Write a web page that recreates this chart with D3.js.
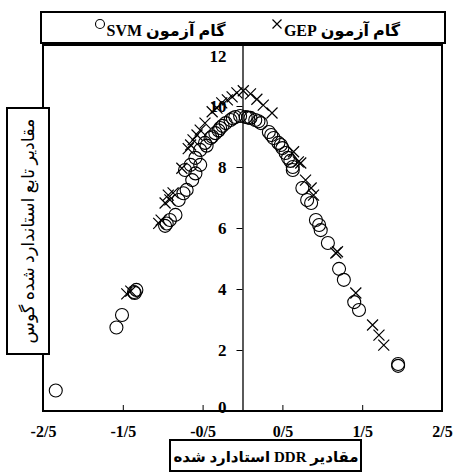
<!DOCTYPE html>
<html>
<head>
<meta charset="utf-8">
<script src="https://cdn.jsdelivr.net/npm/d3@7"></script>
<style>
  html, body { margin: 0; padding: 0; background: #fff; }
  svg { display: block; }
  text { fill: #000; }
</style>
</head>
<body>
<svg id="chart" width="453" height="472"></svg>
<script>
// Standardised DDR values (x) and Gaussian function values (y), SVM test step
const svmX = [-2.34, -1.58, -1.51, -1.36, -1.33, -1.35,
  -0.95, -0.97, -0.91, -0.84, -0.80, -0.74, -0.70, -0.63, -0.59, -0.53,
  -0.72, -0.65, -0.59, -0.53, -0.47, -0.45, -0.40, -0.38, -0.34, -0.30, -0.28, -0.25, -0.21, -0.15, -0.12, -0.09, -0.03,
  0.04, 0.07, 0.10, 0.16, 0.20, 0.23, 0.33, 0.36, 0.39, 0.45, 0.48, 0.50, 0.54, 0.57, 0.60, 0.63, 0.63,
  0.75, 0.81, 0.86, 0.92, 0.96, 0.98, 1.07, 1.21, 1.27, 1.40, 1.46, 1.95, 1.95];
const svmY = [0.67, 2.74, 3.15, 3.90, 3.97, 3.87,
  6.15, 6.07, 6.26, 6.43, 6.92, 7.14, 7.25, 7.57, 7.79, 8.07,
  7.90, 8.07, 8.30, 8.56, 8.79, 8.70, 8.95, 9.00, 9.11, 9.20, 9.28, 9.35, 9.44, 9.54, 9.60, 9.64, 9.67,
  9.64, 9.62, 9.61, 9.54, 9.50, 9.44, 9.15, 9.05, 8.95, 8.79, 8.72, 8.62, 8.46, 8.30, 8.20, 8.00, 7.90,
  7.31, 6.92, 6.82, 6.26, 6.10, 5.93, 5.51, 4.66, 4.30, 3.57, 3.31, 1.54, 1.48];

// GEP test step
const gepX = [-1.45, -1.40, -1.05, -1.02, -0.97, -0.91, -0.93, -0.87, -0.76,
  -0.68, -0.65, -0.62, -0.57, -0.53, -0.47, -0.38, -0.32, -0.26, -0.19, -0.13, -0.07,
  0.01, 0.10, 0.18, 0.26, 0.37, 0.64, 0.70, 0.73, 0.79, 0.86, 0.89,
  1.17, 1.19, 1.42, 1.63, 1.71, 1.77];
const gepY = [3.84, 3.93, 6.15, 6.26, 6.82, 6.92, 7.08, 7.15, 7.96,
  8.60, 8.72, 8.89, 9.05, 9.21, 9.44, 9.81, 9.93, 10.10, 10.20, 10.30, 10.43,
  10.50, 10.40, 10.22, 10.03, 9.77, 8.50, 8.17, 8.13, 7.57, 7.31, 7.08,
  5.18, 5.22, 3.87, 2.82, 2.49, 2.16];

const xTicks = [-2.5, -1.5, -0.5, 0.5, 1.5, 2.5];
const xTickLabels = ["-2/5", "-1/5", "-0/5", "0/5", "1/5", "2/5"];
const yTicks = [0, 2, 4, 6, 8, 10, 12];
const legendLabels = ["گام آزمون GEP", "گام آزمون SVM"];
const xTitle = "مقادیر DDR استادارد شده";
const yTitle = "مقادیر تابع استاندارد شده گوس";

const serif = "'Liberation Serif', 'Times New Roman', 'DejaVu Serif', 'DejaVu Sans', serif";
const svg = d3.select("#chart");

const x = d3.scaleLinear().domain([-2.5, 2.5]).range([43, 442]);
const y = d3.scaleLinear().domain([0, 12]).range([411, 45]);

// x axis along the bottom, ticks pointing inward
const xAxis = svg.append("g")
  .attr("transform", `translate(0,${y(0)})`)
  .call(d3.axisBottom(x).tickValues(xTicks)
    .tickFormat((d, i) => xTickLabels[i])
    .tickSizeInner(-6).tickSizeOuter(0).tickPadding(15));
xAxis.attr("font-family", null).attr("font-size", null);
xAxis.select(".domain").remove();
xAxis.selectAll("line").attr("stroke", "#000").attr("stroke-width", 1);
xAxis.selectAll("text").style("font-family", serif).style("font-weight", "bold")
  .style("font-size", "16px").attr("fill", "#000");

// y axis through x = 0
const yAxis = svg.append("g")
  .attr("transform", `translate(${x(0)},0)`)
  .call(d3.axisLeft(y).tickValues(yTicks).tickFormat(d3.format("d"))
    .tickSizeInner(6).tickSizeOuter(0).tickPadding(10));
yAxis.attr("font-family", null).attr("font-size", null);
yAxis.select(".domain").attr("stroke", "#000").attr("stroke-width", 1.3);
yAxis.selectAll("line").attr("stroke", "#000").attr("stroke-width", 1);
yAxis.selectAll("text").style("font-family", serif).style("font-weight", "bold")
  .style("font-size", "17px").attr("fill", "#000");
// end labels are kept inside the plot area
yAxis.selectAll(".tick").filter(d => d === 12).select("text").attr("dy", "0.95em");
yAxis.selectAll(".tick").filter(d => d === 0).select("text").attr("dy", "0.1em");

// plot frame
svg.append("rect")
  .attr("x", x(-2.5)).attr("y", y(12))
  .attr("width", x(2.5) - x(-2.5)).attr("height", y(0) - y(12))
  .attr("fill", "none").attr("stroke", "#000").attr("stroke-width", 2);

// SVM points: open circles
const svmData = svmX.map((v, i) => ({ x: v, y: svmY[i] }));
svg.append("g").selectAll("circle").data(svmData).join("circle")
  .attr("cx", d => x(d.x)).attr("cy", d => y(d.y)).attr("r", 6.5)
  .attr("fill", "none").attr("stroke", "#000").attr("stroke-width", 1.1);

// GEP points: crosses
const cross = (cx, cy, h) => `M${cx - h},${cy - h}L${cx + h},${cy + h}M${cx - h},${cy + h}L${cx + h},${cy - h}`;
const gepData = gepX.map((v, i) => ({ x: v, y: gepY[i] }));
svg.append("g").selectAll("path").data(gepData).join("path")
  .attr("d", d => cross(x(d.x), y(d.y), 5.5))
  .attr("fill", "none").attr("stroke", "#000").attr("stroke-width", 1.2);

function label(xp, yp, txt, size, weight) {
  return svg.append("text").attr("x", xp).attr("y", yp)
    .attr("text-anchor", "middle").attr("direction", "rtl")
    .style("font-family", serif).style("font-weight", weight)
    .style("font-size", size + "px").text(txt);
}

// legend
svg.append("rect").attr("x", 41).attr("y", 12).attr("width", 404).attr("height", 31)
  .attr("fill", "#fff").attr("stroke", "#000").attr("stroke-width", 2);
svg.append("path").attr("d", cross(277, 24, 4.5)).attr("stroke", "#000").attr("stroke-width", 1.2);
label(342, 36, legendLabels[0], 16, "bold");
svg.append("circle").attr("cx", 100).attr("cy", 24).attr("r", 4.5)
  .attr("fill", "none").attr("stroke", "#000").attr("stroke-width", 1.1);
label(166, 36, legendLabels[1], 16, "bold");

// x title box
svg.append("rect").attr("x", 170).attr("y", 440).attr("width", 191).attr("height", 31)
  .attr("fill", "#fff").attr("stroke", "#000").attr("stroke-width", 2);
label(266, 462, xTitle, 15, "bold");

// y title box
svg.append("rect").attr("x", 7).attr("y", 108).attr("width", 42).attr("height", 246)
  .attr("fill", "#fff").attr("stroke", "#000").attr("stroke-width", 2);
label(0, 0, yTitle, 17.5, "normal")
  .attr("transform", `translate(34,${(108 + 354) / 2}) rotate(-90)`);
</script>
</body>
</html>
